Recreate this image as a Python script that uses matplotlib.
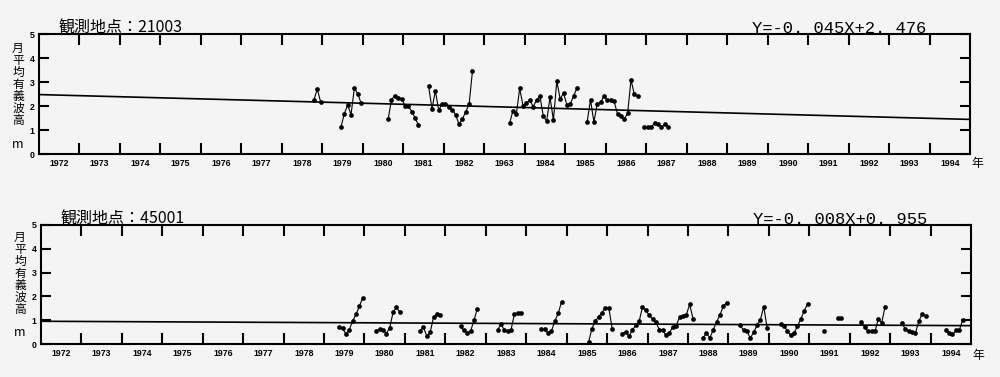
import numpy as np
import matplotlib
matplotlib.use("Agg")
import matplotlib.pyplot as plt
from matplotlib.ticker import FixedLocator, FixedFormatter, NullFormatter

N = None

# ---------------- data ----------------
# Station 21003: monthly mean significant wave height (m), first month Oct 1978
st1_name = "21003"
st1_start = (1978, 10)
st1_values = [
    2.25, 2.71, 2.16,                                                   # 1978 Oct-Dec
    N, N, N, N, N, 1.11, 1.67, 2.05, 1.64, 2.75, 2.50, 2.12,            # 1979
    N, N, N, N, N, N, N, 1.44, 2.27, 2.43, 2.34, 2.30,                  # 1980
    2.02, 2.00, 1.77, 1.50, 1.20, N, N, 2.82, 1.89, 2.63, 1.82, 2.10,   # 1981
    2.10, 1.96, 1.85, 1.64, 1.24, 1.46, 1.75, 2.07, 3.45, N, N, N,      # 1982
    N, N, N, N, N, N, N, 1.28, 1.80, 1.65, 2.73, 2.00,                  # 1983
    2.11, 2.25, 1.97, 2.25, 2.41, 1.58, 1.37, 2.37, 1.41, 3.04, 2.30, 2.53,  # 1984
    2.04, 2.08, 2.43, 2.75, N, N, 1.34, 2.25, 1.34, 2.08, 2.15, 2.41,   # 1985
    2.24, 2.23, 2.19, 1.66, 1.59, 1.45, 1.70, 3.09, 2.48, 2.40, N, 1.11,  # 1986
    1.11, 1.11, 1.30, 1.24, 1.11, 1.24, 1.14,                           # 1987 Jan-Jul
]
st1_slope = -0.045
st1_intercept = 2.476
st1_equation = "Y=-0. 045X+2. 476"

# Station 45001: monthly mean significant wave height (m), first month May 1979
st2_name = "45001"
st2_start = (1979, 5)
st2_values = [
    0.70, 0.66, 0.42, 0.60, 0.98, 1.24, 1.60, 1.95,                     # 1979 May-Dec
    N, N, N, 0.56, 0.62, 0.59, 0.44, 0.69, 1.34, 1.54, 1.33, N,         # 1980
    N, N, N, N, 0.56, 0.70, 0.33, 0.49, 1.13, 1.28, 1.23, N,            # 1981
    N, N, N, N, 0.75, 0.57, 0.48, 0.54, 1.00, 1.48, N, N,               # 1982
    N, N, N, 0.60, 0.82, 0.60, 0.54, 0.60, 1.26, 1.29, 1.32, N,         # 1983
    N, N, N, N, 0.61, 0.61, 0.46, 0.55, 0.96, 1.29, 1.78, N,            # 1984
    N, N, N, N, N, N, 0.07, 0.65, 0.96, 1.15, 1.32, 1.53,               # 1985
    1.53, 0.65, N, N, 0.44, 0.51, 0.32, 0.59, 0.78, 0.95, 1.54, 1.41,   # 1986
    1.21, 1.06, 0.91, 0.60, 0.58, 0.36, 0.46, 0.72, 0.76, 1.13, 1.18, 1.21,  # 1987
    1.67, 1.07, N, N, 0.27, 0.45, 0.26, 0.59, 0.93, 1.22, 1.59, 1.74,   # 1988
    N, N, N, 0.80, 0.57, 0.53, 0.25, 0.49, 0.79, 1.02, 1.57, 0.67,      # 1989
    N, N, N, 0.85, 0.76, 0.55, 0.36, 0.45, 0.76, 1.05, 1.40, 1.68,      # 1990
    N, N, N, N, 0.55, N, N, N, 1.10, 1.10, N, N,                        # 1991
    N, N, N, 0.91, 0.70, 0.53, 0.53, 0.53, 1.05, 0.89, 1.57, N,         # 1992
    N, N, N, 0.88, 0.62, 0.54, 0.52, 0.45, 0.95, 1.27, 1.18, N,         # 1993
    N, N, N, N, 0.57, 0.47, 0.40, 0.57, 0.57, 1.00,                     # 1994 Jan-Oct
]
st2_slope = -0.008
st2_intercept = 0.955
st2_equation = "Y=-0. 008X+0. 955"

years = list(range(1972, 1995))
st1_year_labels = [str(y) for y in years]
st1_year_labels[years.index(1983)] = "1963"   # as printed in the original
st2_year_labels = [str(y) for y in years]
y_ticks = [0, 1, 2, 3, 4, 5]
title_prefix = "観測地点："
ylabel_chars = "月平均有義波高"
unit_label = "m"
year_unit = "年"

# ---------------- drawing ----------------
BG = "#f4f4f4"
CJK = ["Noto Sans CJK JP", "DejaVu Sans"]
TICKFONT = ["Liberation Sans", "DejaVu Sans"]

fig = plt.figure(figsize=(10, 3.77), dpi=100, facecolor=BG)


def month_x(start, n):
    y0, m0 = start
    idx = (m0 - 1) + np.arange(n)
    return y0 + (idx + 0.5) / 12.0


def draw_panel(rect, name, start, values, slope, intercept, eq, year_labels, nen_y):
    ax = fig.add_axes(rect, facecolor=BG)
    vals = np.array(values, dtype=float)
    x = month_x(start, len(vals))
    ax.plot(x, vals, "-o", color="black", lw=0.8, ms=3.4, mew=0, zorder=3)
    xs = np.array([1972.0, 1995.0])
    ax.plot(xs, intercept + slope * (xs - 1972.0), color="black", lw=1.2, zorder=2)

    ax.set_xlim(1972, 1995)
    ax.set_ylim(0, 5)
    for s in ax.spines.values():
        s.set_linewidth(1.5)
        s.set_color("black")

    ax.xaxis.set_major_locator(FixedLocator(np.arange(1973, 1995)))
    ax.xaxis.set_major_formatter(NullFormatter())
    ax.xaxis.set_minor_locator(FixedLocator(np.array(years) + 0.5))
    ax.xaxis.set_minor_formatter(FixedFormatter(year_labels))
    ax.tick_params(axis="x", which="major", direction="in", length=8, width=1.5,
                   top=True, bottom=True, color="black")
    ax.tick_params(axis="x", which="minor", length=0, pad=3.5, labelsize=6.3)
    for lab in ax.get_xticklabels(minor=True):
        lab.set_family(TICKFONT)
        lab.set_fontweight("bold")

    ax.set_yticks(y_ticks)
    ax.tick_params(axis="y", direction="in", length=7, width=1.5, left=True,
                   right=True, pad=3, labelsize=6.3, color="black")
    for lab in ax.get_yticklabels():
        lab.set_family(TICKFONT)
        lab.set_fontweight("bold")

    # titles
    ax.text(0.0205, 1.015, title_prefix + name, transform=ax.transAxes, ha="left",
            va="baseline", fontsize=11.5, family=CJK)
    ax.text(0.766, 1.012, eq, transform=ax.transAxes, ha="left", va="baseline",
            fontsize=12.3, family=["Liberation Mono", "DejaVu Sans Mono"])
    ax.text(1.002, nen_y, year_unit, transform=ax.transAxes, ha="left",
            va="center", fontsize=8.5, family=CJK)
    return ax


ax1 = draw_panel([0.039, 1 - 154 / 377, 0.931, 120 / 377], st1_name, st1_start,
                 st1_values, st1_slope, st1_intercept, st1_equation, st1_year_labels,
                 -0.075)
ax2 = draw_panel([0.041, 1 - 344 / 377, 0.930, 119 / 377], st2_name, st2_start,
                 st2_values, st2_slope, st2_intercept, st2_equation, st2_year_labels,
                 -0.1)

# vertical y-axis labels
for (top_px, m_px, x_px) in [(42, 145, 18), (231, 332, 20)]:
    fig.text(x_px / 1000, 1 - top_px / 377, "\n".join(ylabel_chars), ha="center",
             va="top", fontsize=8.5, linespacing=0.9, family=CJK)
    fig.text(x_px / 1000, 1 - m_px / 377, unit_label, ha="center", va="center",
             fontsize=9, family=CJK)

fig.savefig("out.png", dpi=100, facecolor=BG)
